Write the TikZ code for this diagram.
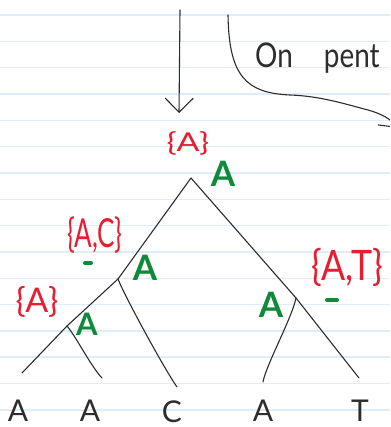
\documentclass[tikz,border=0pt]{standalone}
\usepackage{fontspec}
\setmainfont{Lato}
\usepackage{xcolor}
\usepackage{tikz}
\usetikzlibrary{positioning,arrows.meta}

\definecolor{inkgray}{RGB}{45,45,45}
\definecolor{setred}{RGB}{232,30,48}
\definecolor{costgreen}{RGB}{16,138,58}
\definecolor{rulesblue}{RGB}{222,237,250}

\begin{document}
\begin{tikzpicture}[
x=1pt, y=-1pt,
pen/.style={line width=1.1pt, draw=inkgray, line cap=round, line join=round},
arrow/.style={pen, -{Straight Barb[length=14pt,width=28pt]}},
rule/.style={draw=rulesblue, line width=1.6pt},
setlbl/.style={text=setred, inner sep=0pt},
costlbl/.style={text=costgreen, inner sep=0pt, anchor=base, font=\fontsize{35}{35}\selectfont\bfseries},
leaf/.style={text=inkgray, inner sep=0pt, anchor=base, font=\fontsize{30}{30}\selectfont},
greenbar/.style={draw=costgreen, line width=4pt, line cap=round}
]
\useasboundingbox (0,0) rectangle (390,427);
\clip (0,0) rectangle (390,427);
\fill[white] (0,0) rectangle (390,427);

% ruled paper
\foreach \i in {0,...,15}
  \draw[rule] (0,{15+26.33*\i}) -- (390,{15+26.33*\i});

% top notes
\coordinate (arrowtail) at (180,10);
\coordinate (arrowend) at (179,113);
\draw[arrow] (arrowtail) -- (arrowend);

\coordinate (curvetop) at (228,15);
\coordinate (curveend) at (398,128);
\draw[arrow] (curvetop) .. controls (229,75) and (245,93) .. (290,95)
  .. controls (320,96) and (345,104) .. (368,110)
  .. controls (382,114) and (391,119) .. (curveend);
\node[anchor=base west, inner sep=0pt, text=inkgray, font=\fontsize{34}{34}\selectfont] (note) at (255,68) {\scalebox{0.82}[1]{On\hspace{38pt}pent}};

% tree
\coordinate (root) at (191,178);
\coordinate (nac) at (118,279);
\coordinate (na) at (67,326);
\coordinate (nat) at (296,298);
\coordinate (tipA1) at (22,373);
\coordinate (tipA2) at (102,378);
\coordinate (tipC) at (177,387);
\coordinate (tipA4) at (263,382);
\coordinate (tipT) at (359,378);

\draw[pen] (root) -- (nac) -- (na) -- (tipA1);
\draw[pen] (na) .. controls (75,335) and (92,368) .. (tipA2);
\draw[pen] (nac) .. controls (125,297) and (165,370) .. (tipC);
\draw[pen] (root) -- (nat) -- (tipT);
\draw[pen] (nat) .. controls (292,318) and (266,365) .. (tipA4);

% leaves
\node[leaf] (leafA1) at (18,421) {A};
\node[leaf] (leafA2) at (90,421) {A};
\node[leaf] (leafC) at (172,422) {C};
\node[leaf] (leafA4) at (263,421) {A};
\node[leaf] (leafT) at (360,421) {T};

% candidate sets
\node[setlbl, font=\fontsize{26}{26}\selectfont] (setroot) at (188,143) {\scalebox{1.3}[1]{\{A\}}};
\node[setlbl, font=\fontsize{40}{40}\selectfont] (setac) at (95,235) {\scalebox{0.65}[1]{\{A,C\}}};
\node[setlbl, font=\fontsize{34}{34}\selectfont] (seta) at (37,302) {\{A\}};
\node[setlbl, font=\fontsize{42}{42}\selectfont] (setat) at (347,267) {\scalebox{0.85}[1]{\{A,T\}}};

% chosen labels
\node[costlbl] (costroot) at (223,187) {A};
\node[costlbl] (costac) at (145,280) {A};
\node[costlbl, font=\fontsize{31}{31}\selectfont\bfseries] (costa) at (87,335) {A};
\node[costlbl] (costat) at (271,317) {A};

\draw[greenbar] (85,263) -- (91,263);
\draw[greenbar] (327,300) -- (337,300);
\end{tikzpicture}
\end{document}
